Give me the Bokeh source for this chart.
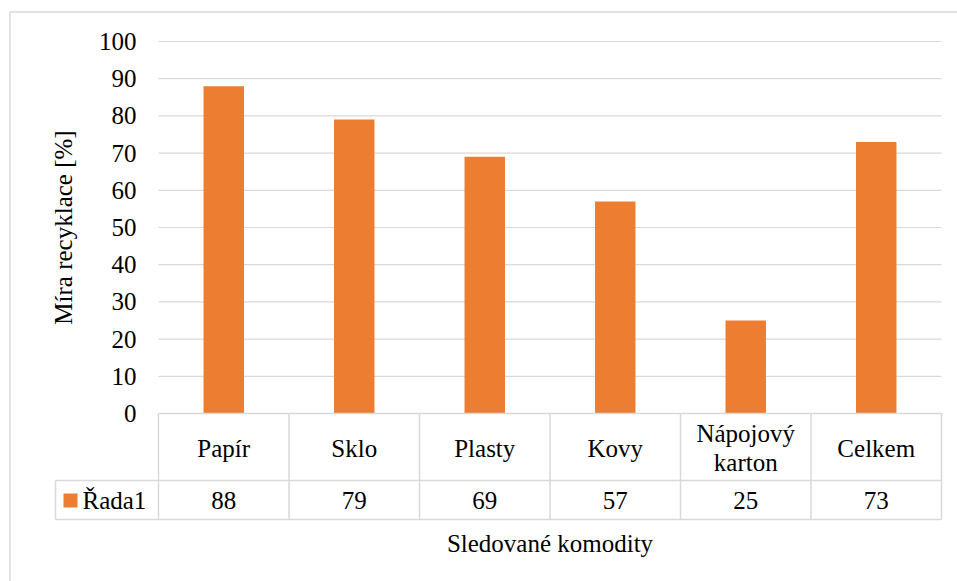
import math
from bokeh.plotting import figure
from bokeh.models import Range1d
from bokeh.core.properties import value
from bokeh.embed import file_html
from bokeh.resources import INLINE

# ---- data ----
categories = ["Papír", "Sklo", "Plasty", "Kovy", "Nápojový karton", "Celkem"]
category_labels = ["Papír", "Sklo", "Plasty", "Kovy", "Nápojový\nkarton", "Celkem"]
series_name = "Řada1"
values = [88, 79, 69, 57, 25, 73]
y_ticks = [0, 10, 20, 30, 40, 50, 60, 70, 80, 90, 100]
y_title = "Míra recyklace [%]"
x_title = "Sledované komodity"

# ---- layout (pixel helpers) ----
PX_X0, UX = 158.0, 130.5     # x=0 at px 158, one category = 130.5 px
PX_Y0, UY = 413.0, 3.72      # y=0 at px 413, one unit = 3.72 px
def dx(px): return (px - PX_X0) / UX
def dy(py): return (PX_Y0 - py) / UY

W, H = 957, 581
FS = "25px"
BAR = "#ED7D31"
LINE = "#d9d9d9"
n = len(categories)
xc = [i + 0.5 for i in range(n)]

p = figure(width=W, height=H, output_backend="svg", toolbar_location=None,
           x_range=Range1d(dx(0), dx(W)), y_range=Range1d(dy(H), dy(0)),
           x_axis_location=None, y_axis_location=None, min_border=0,
           outline_line_color=None, background_fill_color="white",
           border_fill_color="white")
p.grid.visible = False

def txt(x, y, text, align="center", angle=0.0):
    # one single-item text renderer per label
    p.text(x=[x], y=[y], text=[text], angle=angle,
           text_font=value("Liberation Serif"), text_font_size=FS,
           text_baseline="middle", text_align=align)

# chart area border (left and top)
p.segment(x0=[dx(9.5), dx(9.5)], y0=[dy(11.5), dy(11.5)],
          x1=[dx(W), dx(9.5)], y1=[dy(11.5), dy(H)],
          line_color=LINE, line_width=1.5)

# gridlines
p.segment(x0=[0] * len(y_ticks), x1=[n] * len(y_ticks), y0=y_ticks, y1=y_ticks,
          line_color=LINE, line_width=1.2)

# bars
p.vbar(x=xc, top=values, bottom=0, width=0.31, fill_color=BAR, line_color=None)

# data table lines
row1_bot = dy(480)
row2_bot = dy(519)
leg_left = dx(55)
hx0 = [0, leg_left, leg_left]
hx1 = [n, n, n]
hy = [0, row1_bot, row2_bot]
p.segment(x0=hx0, x1=hx1, y0=hy, y1=hy, line_color=LINE, line_width=1.5)
vx = list(range(n + 1))
p.segment(x0=vx, x1=vx, y0=[0] * len(vx), y1=[row2_bot] * len(vx),
          line_color=LINE, line_width=1.5)
p.segment(x0=[leg_left], x1=[leg_left], y0=[row1_bot], y1=[row2_bot],
          line_color=LINE, line_width=1.5)

# y tick labels
for t in y_ticks:
    txt(dx(136), t, str(t), align="right")

# category labels (each line as its own text)
LH = 29.0
for x, lab in zip(xc, category_labels):
    lines = lab.split("\n")
    k = len(lines)
    for j, line in enumerate(lines):
        txt(x, dy(447.5 + (j - (k - 1) / 2) * LH), line)

# values row
for x, v in zip(xc, values):
    txt(x, dy(500), str(v))

# legend key
p.scatter(x=[dx(70)], y=[dy(500)], marker="square", size=14,
          fill_color=BAR, line_color=None)
txt(dx(82), dy(500), series_name, align="left")

# axis titles
txt(n / 2, dy(543), x_title)
txt(dx(63), (y_ticks[0] + y_ticks[-1]) / 2, y_title, angle=math.pi / 2)

open("out.html", "w").write(file_html(p, INLINE))
